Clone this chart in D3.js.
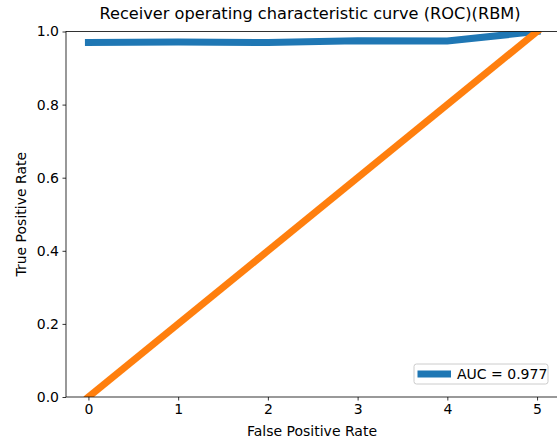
<!DOCTYPE html>
<html>
<head>
<meta charset="utf-8">
<script src="https://cdn.jsdelivr.net/npm/d3@7"></script>
<style>
  body { margin: 0; background: #fff; }
  text { font-family: "DejaVu Sans", sans-serif; fill: #000; }
</style>
</head>
<body>
<div id="wrapper"></div>
<script>
// data
const fprIndex = [0, 1, 2, 3, 4, 5]
const tprValues = [0.970, 0.971, 0.970, 0.975, 0.974, 1.0]
const diagX = [0, 5]
const diagY = [0, 1]
const xTicks = [0, 1, 2, 3, 4, 5]
const yTicks = [0, 0.2, 0.4, 0.6, 0.8, 1.0]
const legendLabel = "AUC = 0.977"

const drawChart = () => {
  const dimensions = {
    width: 557,
    height: 441,
    margins: { top: 31.5, right: -2.5, bottom: 44, left: 66 },
  }
  dimensions.boundedWidth =
    dimensions.width - dimensions.margins.left - dimensions.margins.right
  dimensions.boundedHeight =
    dimensions.height - dimensions.margins.top - dimensions.margins.bottom

  const svg = d3
    .select("#wrapper")
    .append("svg")
    .attr("width", dimensions.width)
    .attr("height", dimensions.height)

  const bounds = svg
    .append("g")
    .attr("transform", `translate(${dimensions.margins.left},${dimensions.margins.top})`)

  bounds
    .append("defs")
    .append("clipPath")
    .attr("id", "clip")
    .append("rect")
    .attr("width", dimensions.boundedWidth)
    .attr("height", dimensions.boundedHeight)

  const xScale = d3.scaleLinear().domain([-0.25, 5.25]).range([0, dimensions.boundedWidth])
  const yScale = d3.scaleLinear().domain([0, 1]).range([dimensions.boundedHeight, 0])

  const line = d3
    .line()
    .x((d) => xScale(d[0]))
    .y((d) => yScale(d[1]))

  const clip = bounds.append("g").attr("clip-path", "url(#clip)")

  clip
    .append("path")
    .attr("d", line(d3.zip(fprIndex, tprValues)))
    .attr("fill", "none")
    .attr("stroke", "#1f77b4")
    .attr("stroke-width", 7)
    .attr("stroke-linecap", "square")

  clip
    .append("path")
    .attr("d", line(d3.zip(diagX, diagY)))
    .attr("fill", "none")
    .attr("stroke", "#ff7f0e")
    .attr("stroke-width", 7)
    .attr("stroke-linecap", "square")

  // axes
  const xAxis = d3
    .axisBottom(xScale)
    .tickValues(xTicks)
    .tickFormat(d3.format("d"))
    .tickSize(3.5)
    .tickPadding(3.5)
  const yAxis = d3
    .axisLeft(yScale)
    .tickValues(yTicks)
    .tickFormat(d3.format(".1f"))
    .tickSize(3.5)
    .tickPadding(3.5)

  const xg = bounds
    .append("g")
    .attr("transform", `translate(0,${dimensions.boundedHeight})`)
    .call(xAxis)
  const yg = bounds.append("g").call(yAxis)

  ;[xg, yg].forEach((g) => {
    g.select(".domain").remove()
    g.selectAll("line").attr("stroke", "#000").attr("stroke-width", 0.8)
    g.selectAll("text")
      .style("font-family", "DejaVu Sans, sans-serif")
      .style("font-size", "14px")
      .attr("fill", "#000")
  })

  // spines
  bounds
    .append("rect")
    .attr("width", dimensions.boundedWidth)
    .attr("height", dimensions.boundedHeight)
    .attr("fill", "none")
    .attr("stroke", "#000")
    .attr("stroke-width", 0.8)

  // labels
  svg
    .append("text")
    .attr("x", 310)
    .attr("y", 19)
    .attr("text-anchor", "middle")
    .style("font-size", "16.2px")
    .text("Receiver operating characteristic curve (ROC)(RBM)")

  svg
    .append("text")
    .attr("x", 312)
    .attr("y", 436)
    .attr("text-anchor", "middle")
    .style("font-size", "14px")
    .text("False Positive Rate")

  svg
    .append("text")
    .attr("transform", `translate(25.5,${dimensions.margins.top + dimensions.boundedHeight / 2}) rotate(-90)`)
    .attr("text-anchor", "middle")
    .style("font-size", "14px")
    .text("True Positive Rate")

  // legend
  const legend = svg.append("g").attr("transform", "translate(414,364)")
  legend
    .append("rect")
    .attr("width", 134)
    .attr("height", 20)
    .attr("rx", 2.5)
    .attr("fill", "#fff")
    .attr("fill-opacity", 0.8)
    .attr("stroke", "#ccc")
    .attr("stroke-width", 1)
  legend
    .append("line")
    .attr("x1", 3.5)
    .attr("x2", 37)
    .attr("y1", 10)
    .attr("y2", 10)
    .attr("stroke", "#1f77b4")
    .attr("stroke-width", 7)
  legend
    .append("text")
    .attr("x", 43)
    .attr("y", 15)
    .style("font-size", "14px")
    .text(legendLabel)
}

drawChart()
</script>
</body>
</html>
